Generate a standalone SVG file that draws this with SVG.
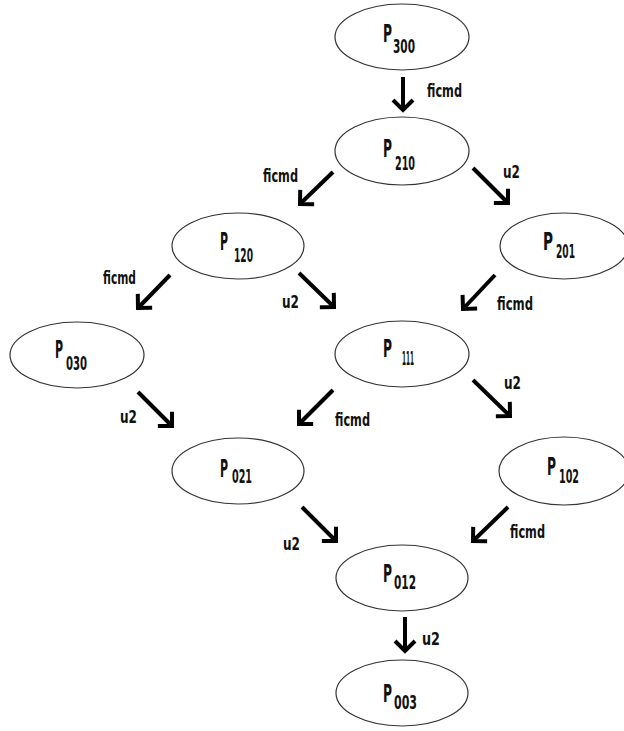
<svg xmlns="http://www.w3.org/2000/svg" width="624" height="731" viewBox="0 0 624 731">
<style>
.node ellipse{fill:#fff;stroke:#333;stroke-width:1.2}
.p{font-family:"DejaVu Sans Condensed","Liberation Sans",sans-serif;font-weight:bold;font-size:24px;fill:#111}
.s{font-family:"DejaVu Sans Condensed","Liberation Sans",sans-serif;font-weight:bold;font-size:19px;fill:#111}
.lbl{font-family:"DejaVu Sans Condensed","Liberation Sans",sans-serif;font-weight:bold;font-size:18px;fill:#111}
#edges line{stroke:#000;stroke-width:4;marker-end:url(#chev)}
</style>
<defs>
<marker id="chev" markerUnits="userSpaceOnUse" viewBox="-16 -16 20 32" markerWidth="20" markerHeight="32" refX="0" refY="0" orient="auto">
<path d="M-10,-10 L0,0 L-10,10" fill="none" stroke="#000" stroke-width="4" stroke-linejoin="miter"/>
</marker>
</defs>
<rect width="624" height="731" fill="#fff"/>
<g id="edges">
<line x1="403" y1="77" x2="403" y2="110"/>
<line x1="333" y1="172" x2="300" y2="204"/>
<line x1="473" y1="168" x2="508" y2="203"/>
<line x1="170" y1="275" x2="138" y2="308"/>
<line x1="299" y1="273" x2="334" y2="307"/>
<line x1="495" y1="275" x2="463" y2="309"/>
<line x1="138" y1="392" x2="172" y2="426"/>
<line x1="333" y1="390" x2="299" y2="424"/>
<line x1="473" y1="380" x2="510" y2="416"/>
<line x1="302" y1="507" x2="336" y2="541"/>
<line x1="508" y1="507" x2="473" y2="541"/>
<line x1="405" y1="617" x2="405" y2="651"/>
<text class="lbl" x="427" y="97" textLength="35" lengthAdjust="spacingAndGlyphs">ficmd</text>
<text class="lbl" x="263" y="182" textLength="35" lengthAdjust="spacingAndGlyphs">ficmd</text>
<text class="lbl" x="503" y="178" textLength="17" lengthAdjust="spacingAndGlyphs">u2</text>
<text class="lbl" x="103" y="284" textLength="33" lengthAdjust="spacingAndGlyphs">ficmd</text>
<text class="lbl" x="282" y="308" textLength="17" lengthAdjust="spacingAndGlyphs">u2</text>
<text class="lbl" x="497" y="310" textLength="36" lengthAdjust="spacingAndGlyphs">ficmd</text>
<text class="lbl" x="120" y="423" textLength="17" lengthAdjust="spacingAndGlyphs">u2</text>
<text class="lbl" x="335" y="426" textLength="35" lengthAdjust="spacingAndGlyphs">ficmd</text>
<text class="lbl" x="504" y="389" textLength="17" lengthAdjust="spacingAndGlyphs">u2</text>
<text class="lbl" x="283" y="550" textLength="17" lengthAdjust="spacingAndGlyphs">u2</text>
<text class="lbl" x="510" y="538" textLength="35" lengthAdjust="spacingAndGlyphs">ficmd</text>
<text class="lbl" x="422" y="645" textLength="18" lengthAdjust="spacingAndGlyphs">u2</text>
</g>
<g id="P300" class="node"><ellipse cx="402" cy="37" rx="67" ry="33"/><text class="p" x="383" y="42" textLength="9" lengthAdjust="spacingAndGlyphs">P</text><text class="s" x="393" y="53" textLength="22" lengthAdjust="spacingAndGlyphs">300</text></g>
<g id="P210" class="node"><ellipse cx="402" cy="151" rx="67" ry="34"/><text class="p" x="383" y="157" textLength="9" lengthAdjust="spacingAndGlyphs">P</text><text class="s" x="395" y="170" textLength="20" lengthAdjust="spacingAndGlyphs">210</text></g>
<g id="P120" class="node"><ellipse cx="238" cy="246" rx="66" ry="33"/><text class="p" x="220" y="250" textLength="8" lengthAdjust="spacingAndGlyphs">P</text><text class="s" x="234" y="262" textLength="19" lengthAdjust="spacingAndGlyphs">120</text></g>
<g id="P201" class="node"><ellipse cx="564" cy="246" rx="64" ry="33"/><text class="p" x="543" y="250" textLength="10" lengthAdjust="spacingAndGlyphs">P</text><text class="s" x="556" y="258" textLength="19" lengthAdjust="spacingAndGlyphs">201</text></g>
<g id="P030" class="node"><ellipse cx="77" cy="355" rx="67" ry="33"/><text class="p" x="55" y="358" textLength="8" lengthAdjust="spacingAndGlyphs">P</text><text class="s" x="66" y="370" textLength="21" lengthAdjust="spacingAndGlyphs">030</text></g>
<g id="P111" class="node"><ellipse cx="402" cy="354" rx="67" ry="33"/><text class="p" x="383" y="357" textLength="9" lengthAdjust="spacingAndGlyphs">P</text><text class="s" x="402" y="365" textLength="12" lengthAdjust="spacingAndGlyphs">111</text></g>
<g id="P021" class="node"><ellipse cx="238" cy="471" rx="66" ry="33"/><text class="p" x="220" y="477" textLength="8" lengthAdjust="spacingAndGlyphs">P</text><text class="s" x="232" y="483" textLength="20" lengthAdjust="spacingAndGlyphs">021</text></g>
<g id="P102" class="node"><ellipse cx="564" cy="471" rx="65" ry="34"/><text class="p" x="547" y="475" textLength="9" lengthAdjust="spacingAndGlyphs">P</text><text class="s" x="559" y="483" textLength="20" lengthAdjust="spacingAndGlyphs">102</text></g>
<g id="P012" class="node"><ellipse cx="402" cy="578" rx="66" ry="33"/><text class="p" x="383" y="582" textLength="9" lengthAdjust="spacingAndGlyphs">P</text><text class="s" x="394" y="589" textLength="22" lengthAdjust="spacingAndGlyphs">012</text></g>
<g id="P003" class="node"><ellipse cx="402" cy="693" rx="66" ry="33"/><text class="p" x="383" y="702" textLength="9" lengthAdjust="spacingAndGlyphs">P</text><text class="s" x="394" y="709" textLength="23" lengthAdjust="spacingAndGlyphs">003</text></g>
</svg>
